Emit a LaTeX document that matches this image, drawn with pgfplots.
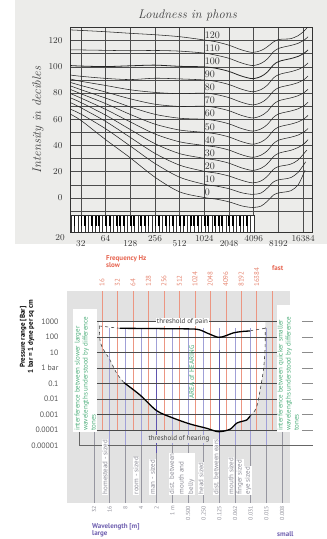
\documentclass[border=0pt]{standalone}
\usepackage{fontspec}
\usepackage{pgfplots}
\pgfplotsset{compat=1.18}
\newfontfamily\bsans{PT Sans}
\definecolor{topbg}{RGB}{236,236,234}
\definecolor{graybox}{RGB}{226,226,226}
\definecolor{redline}{RGB}{236,150,130}
\definecolor{redtext}{RGB}{230,100,80}
\definecolor{freqtext}{RGB}{230,135,115}
\definecolor{blueline}{RGB}{160,160,215}
\definecolor{darkblue}{RGB}{95,85,175}
\definecolor{purpletext}{RGB}{110,95,175}
\definecolor{greentext}{RGB}{80,175,125}
\definecolor{tickgray}{RGB}{85,85,85}
\definecolor{wlgray}{RGB}{140,140,150}
\definecolor{lowline}{RGB}{150,150,160}
\tikzset{
  curve/.style={smooth, black!85, line width=0.55pt},
  plab/.style={anchor=west, inner sep=0.3pt, font=\fontsize{10}{11}\selectfont, text=black!80},
  flab/.style={rotate=90, anchor=west, inner sep=0pt, font=\bsans\fontsize{7}{8}\selectfont, text=freqtext},
  wlab/.style={rotate=90, anchor=east, inner sep=0pt, font=\bsans\fontsize{5.8}{6}\selectfont, text=wlgray},
  dlab/.style={rotate=90, anchor=west, fill=white, inner sep=0.6pt, align=left, font=\bsans\fontsize{7}{9.5}\selectfont, text=wlgray},
}
\begin{document}
\begin{tikzpicture}
\path[use as bounding box] (0pt,0pt) rectangle (327pt,-539pt);
\fill[topbg] (15pt,0pt) rectangle (327pt,-244pt);
% ---------------- top chart ----------------
\begin{axis}[
  at={(70pt,-27pt)}, anchor=north west, width=242pt, height=205pt, scale only axis,
  xmin=4.56, xmax=14.36, ymin=-26, ymax=130.4,
  axis line style={draw=black!80, line width=0.7pt},
  xtick={5,...,14},
  xticklabels={\rule{0pt}{10.8pt}32,64,\rule{0pt}{10.8pt}128,256,\rule{0pt}{10.8pt}512,1024,\rule{0pt}{10.8pt}2048,4096,\rule{0pt}{10.8pt}8192,16384},
  ytick={0,20,...,120}, minor ytick={-10,10,...,110},
  xmajorgrids, ymajorgrids, yminorgrids,
  major grid style={black!70, line width=0.5pt},
  minor grid style={black!70, line width=0.5pt},
  major tick length=0pt, minor tick length=0pt,
  tick label style={font=\fontsize{9}{10}\selectfont, text=black!80},
  yticklabel style={xshift=-4pt},
]
\addplot[curve] coordinates {(4.56,128.2)(5,127.8)(6,126.8)(7,125.6)(8,124.5)(9,123)(10,120.5)(10.5,119)(11,116.5)(11.5,113)(11.95,111)(12.3,112.5)(12.55,115.3)(12.8,119)(13,120.8)(13.25,121.2)(13.5,121.5)(13.8,123.8)(14.05,127.5)(14.25,132)};
\addplot[curve] coordinates {(4.56,113)(5,112.9)(6,112.6)(7,112.3)(8,112.5)(9,112)(10,110.5)(10.5,108.8)(11,106.5)(11.5,103)(11.95,101)(12.3,102.7)(12.55,106)(12.8,111.5)(13,114)(13.25,115.3)(13.5,116.3)(13.8,118)(14.05,120.5)(14.2,123)};
\addplot[curve, line width=0.8pt] coordinates {(4.56,101)(5,100.6)(6,100.2)(7,100.8)(8,101.3)(9,100.4)(10,100)(10.5,98.8)(11,96.5)(11.5,93)(11.95,91)(12.3,92.7)(12.55,96)(12.8,101.5)(13,104)(13.25,105.3)(13.5,106.3)(13.8,108)(14.05,110.5)(14.2,113)};
\addplot[curve] coordinates {(4.56,93.8)(5,92.8)(6,91.2)(7,90.3)(8,91.3)(9,90.8)(10,90)(10.5,88.8)(11,86.5)(11.5,83)(11.95,81)(12.3,82.7)(12.55,86)(12.8,91.5)(13,94)(13.25,95.3)(13.5,96.3)(13.8,98)(14.05,100.5)(14.2,103)};
\addplot[curve] coordinates {(4.56,90.8)(5,89)(6,85.8)(7,82.5)(8,80.5)(9,79.5)(10,80)(10.5,78.8)(11,76.5)(11.5,73)(11.95,71)(12.3,72.7)(12.55,76)(12.8,81.5)(13,84)(13.25,85.3)(13.5,86.3)(13.8,88)(14.05,90.5)(14.2,93)};
\addplot[curve] coordinates {(4.56,88.2)(5,85.8)(6,80.8)(7,75.6)(8,71.5)(9,69.8)(10,70)(10.5,68.8)(11,66.5)(11.5,63)(11.95,61)(12.3,62.7)(12.55,66)(12.8,71.5)(13,74)(13.25,75.3)(13.5,76.3)(13.8,78)(14.05,80.5)(14.2,83)};
\addplot[curve] coordinates {(4.56,85.6)(5,82.6)(6,76.2)(7,69.4)(8,63.8)(9,60.8)(10,60)(10.5,58.8)(11,56.5)(11.5,53)(11.95,51)(12.3,52.7)(12.55,56)(12.8,61.5)(13,64)(13.25,65.3)(13.5,66.3)(13.8,68)(14.05,70.5)(14.2,73)};
\addplot[curve] coordinates {(4.56,82.9)(5,79.5)(6,72)(7,63.7)(8,56.3)(9,51.8)(10,50)(10.5,48.8)(11,46.5)(11.5,43)(11.95,41)(12.3,42.7)(12.55,46)(12.8,51.5)(13,54)(13.25,55.3)(13.5,56.3)(13.8,58)(14.05,60.5)(14.2,63)};
\addplot[curve] coordinates {(4.56,79.8)(5,76.2)(6,67.6)(7,58)(8,48.8)(9,42.8)(10,40)(10.5,38.8)(11,36.5)(11.5,33)(11.95,31)(12.3,32.7)(12.55,36)(12.8,41.5)(13,44)(13.25,45.3)(13.5,46.3)(13.8,48)(14.05,50.5)(14.2,53)};
\addplot[curve] coordinates {(4.56,76.5)(5,72.8)(6,63.2)(7,52.2)(8,41.4)(9,33.8)(10,30.2)(10.5,28.8)(11,26.5)(11.5,23)(11.95,21)(12.3,22.7)(12.55,26)(12.8,31.5)(13,34)(13.25,35.3)(13.5,36.3)(13.8,38.5)(14.05,41.5)(14.2,44.5)};
\addplot[curve] coordinates {(4.56,72.9)(5,68.8)(6,58.4)(7,46.2)(8,34)(9,25)(10,20.3)(10.5,18.9)(11,16.7)(11.5,13.5)(11.95,11.5)(12.3,13)(12.55,16.5)(12.8,21.8)(13,23.9)(13.25,24.8)(13.5,25.8)(13.8,29)(14.15,36.5)};
\addplot[curve] coordinates {(4.56,67.8)(5,64)(6,52.8)(7,39.6)(8,26.3)(9,15.8)(10,10.4)(10.5,9)(11,7)(11.5,4)(11.95,2.7)(12.3,3.8)(12.55,7.5)(12.8,12.2)(13,13.8)(13.25,14.5)(13.5,15.5)(13.8,19.5)(14.1,27.5)};
\addplot[curve] coordinates {(4.56,64)(5,59.2)(6,44.5)(7,30.6)(8,15.8)(9,4.6)(10,0.3)(10.5,-1)(11,-3)(11.5,-6)(11.95,-7.3)(12.3,-6.2)(12.55,-2.5)(12.8,2.2)(13,3.8)(13.25,4.5)(13.5,5.5)(13.8,10)(14.08,21.2)};
\node[plab] at (axis cs:10,124.2) {120};
\node[plab] at (axis cs:10,114.2) {110};
\node[plab] at (axis cs:10,104.2) {100};
\node[plab] at (axis cs:10,94.2) {90};
\node[plab] at (axis cs:10,84.2) {80};
\node[plab] at (axis cs:10,74.2) {70};
\node[plab] at (axis cs:10,64.2) {60};
\node[plab] at (axis cs:10,54.2) {50};
\node[plab] at (axis cs:10,44.2) {40};
\node[plab] at (axis cs:10,34.2) {30};
\node[plab] at (axis cs:10,24.2) {20};
\node[plab] at (axis cs:10,14.2) {10};
\node[plab] at (axis cs:10,4.2) {0};
\end{axis}
% piano keyboard
\fill[white] (71pt,-215pt) rectangle (254pt,-232pt);
\foreach \i in {0,...,52} \draw[black!80, line width=0.35pt] ({71pt+\i*3.519pt},-215pt) -- ({71pt+\i*3.519pt},-232pt);
\draw[black!80, line width=0.5pt] (71pt,-215pt) rectangle (254pt,-232pt);
\foreach \i in {0,...,50}{
  \pgfmathtruncatemacro{\m}{mod(\i,7)}
  \ifnum\m=1\relax\else\ifnum\m=4\relax\else
    \fill[black] ({71pt+(\i+1)*3.519pt-0.9pt},-215.5pt) rectangle ({71pt+(\i+1)*3.519pt+0.9pt},-226pt);
  \fi\fi
}
\node[font=\fontsize{9}{10}\selectfont, text=black!80] at (60pt,-237.5pt) {20};
\node[font=\itshape\fontsize{12.5}{14}\selectfont, text=black!75] at (187.5pt,-15pt) {Loudness in phons};
\node[rotate=90, font=\itshape\fontsize{12.5}{14}\selectfont, text=black!75] at (38pt,-120pt) {Intensity in decibles};
% ---------------- bottom diagram ----------------
\begin{axis}[
  at={(67pt,-291pt)}, anchor=north west, width=223pt, height=212pt, scale only axis,
  xmin=1.738, xmax=16.153, ymin=-8.72, ymax=4.984,
  axis line style={draw=none},
  xtick=\empty,
  ytick={-5,-4,...,3},
  yticklabels={0.00001,0.0001,0.001,0.01,0.1,1 bar,10,100,1000},
  major tick length=0pt,
  yticklabel style={font=\bsans\fontsize{7.8}{9}\selectfont, text=tickgray, xshift=-5pt},
  clip=false,
]
\fill[graybox] (rel axis cs:0,0) rectangle (rel axis cs:1,1);
% area of hearing (white)
\addplot[fill=white, draw=none] coordinates {(3.80,3)(14.56,3)(14.556,2.463)(14.537,1.171)(14.408,-0.316)(14.0,-2.495)(13.567,-3.096)(13.354,-3.354)(12.727,-3.548)(12.274,-3.955)(11.519,-4.111)(10.769,-3.891)(9.689,-3.613)(8.590,-3.225)(7.536,-2.753)(6.456,-1.738)(5.422,-0.943)(4.950,-0.335)(4.517,0.524)(4.194,1.041)(4.0,1.384)(3.871,1.817)(3.825,2.722)};
% side text boxes
\fill[white] (axis cs:2.125,3.821) rectangle (axis cs:3.677,-4.130);
\fill[white] (axis cs:15.312,4.080) rectangle (axis cs:16.864,-4.130);
% frequency lines
\pgfplotsinvokeforeach{4,...,15}{\draw[redline, line width=0.5pt] (axis cs:#1,4.984) -- (axis cs:#1,-4);}
% wavelength lines
\pgfplotsinvokeforeach{4.496,5.509,6.522,7.535,8.548,9.561,10.574,11.587,12.600,13.613,14.626}{\draw[blueline, line width=0.5pt] (axis cs:#1,2.593) -- (axis cs:#1,-5);}
\pgfplotsinvokeforeach{3.483,15.639}{\draw[lowline, line width=0.5pt] (axis cs:#1,-4.13) -- (axis cs:#1,-5);}
\pgfplotsinvokeforeach{3.483,4.496,5.509,6.522,7.535,8.548,9.561,10.574,11.587,12.600,13.613,14.626,15.639}{\draw[lowline, line width=0.5pt] (axis cs:#1,-5) -- (axis cs:#1,-8.72);}
\draw[darkblue, line width=1.3pt] (axis cs:7.535,0.007) -- (axis cs:7.535,-5.48);
\draw[darkblue, line width=1.3pt] (axis cs:11.587,1.171) -- (axis cs:11.587,-5.0);
% pressure lines
\pgfplotsinvokeforeach{-4,...,3}{\draw[black!70, line width=0.6pt] (axis cs:3.677,#1) -- (axis cs:15.312,#1);
  \draw[black!45, line width=0.6pt] (axis cs:16.928,#1) -- (axis cs:17.639,#1);}
\draw[black!60, line width=0.6pt] (axis cs:2.513,-4.13) -- (axis cs:2.513,-5) -- (axis cs:17.64,-5);
% thresholds
\addplot[smooth, black, line width=1.3pt] coordinates {(5.164,2.573)(7.103,2.560)(8.719,2.541)(10.141,2.509)(10.787,2.270)(11.498,1.992)(11.951,2.076)(12.468,2.270)(13.05,2.367)(13.567,2.399)};
\addplot[smooth, black, line width=1.3pt] coordinates {(5.422,-0.943)(6.456,-1.738)(7.536,-2.753)(8.590,-3.225)(9.689,-3.613)(10.769,-3.891)(11.519,-4.111)(12.274,-3.955)(12.727,-3.548)(13.354,-3.354)(13.567,-3.096)};
\addplot[dashed, black!75, line width=0.6pt] coordinates {(5.164,2.573)(3.825,2.722)};
\addplot[smooth, dashed, black!75, line width=0.6pt] coordinates {(3.825,2.722)(3.871,1.817)(4.0,1.384)(4.194,1.041)(4.517,0.524)(4.950,-0.335)(5.422,-0.943)};
\addplot[smooth, dashed, black!75, line width=0.6pt] coordinates {(13.567,-3.096)(14.0,-2.495)(14.408,-0.316)(14.537,1.171)(14.556,2.463)(14.537,2.573)};
\addplot[dashed, black!75, line width=0.6pt] coordinates {(14.537,2.573)(13.612,2.418)};
% texts
\node[fill=white, inner sep=0.8pt, font=\bsans\fontsize{7}{8}\selectfont, text=black!75] at (axis cs:9.204,3) {threshold of pain};
\node[fill=graybox, inner sep=0.8pt, font=\bsans\fontsize{7}{8}\selectfont, text=black!75] at (axis cs:8.98,-4.58) {threshold of hearing};
\node[rotate=90, font=\bsans\fontsize{7}{8}\selectfont, text=greentext] at (axis cs:9.798,-0.25) {AREA of HEARING};
\node[rotate=90, anchor=south west, align=left, inner sep=0pt, font=\bsans\fontsize{7}{8}\selectfont, text=greentext] at (axis cs:3.612,-4.065) {interference between slower larger\\wavelengths understood by difference\\tones};
\node[rotate=90, anchor=south west, align=left, inner sep=0pt, font=\bsans\fontsize{7}{8}\selectfont, text=greentext] at (axis cs:16.734,-4.065) {interference between quicker smaller\\wavelengths understood by difference\\tones};
\node[flab] at (axis cs:4,5.243) {16};
\node[flab] at (axis cs:5,5.243) {32};
\node[flab] at (axis cs:6,5.243) {64};
\node[flab] at (axis cs:7,5.243) {128};
\node[flab] at (axis cs:8,5.243) {256};
\node[flab] at (axis cs:9,5.243) {512};
\node[flab] at (axis cs:10,5.243) {1024};
\node[flab] at (axis cs:11,5.243) {2048};
\node[flab] at (axis cs:12,5.243) {4096};
\node[flab] at (axis cs:13,5.243) {8192};
\node[flab] at (axis cs:14,5.243) {16384};
\node[wlab] at (axis cs:3.483,-8.913) {32};
\node[wlab] at (axis cs:4.496,-8.913) {16};
\node[wlab] at (axis cs:5.509,-8.913) {8};
\node[wlab] at (axis cs:6.522,-8.913) {4};
\node[wlab] at (axis cs:7.535,-8.913) {2};
\node[wlab] at (axis cs:8.548,-8.913) {1 m};
\node[wlab] at (axis cs:9.561,-8.913) {0.500};
\node[wlab] at (axis cs:10.574,-8.913) {0.250};
\node[wlab] at (axis cs:11.587,-8.913) {0.125};
\node[wlab] at (axis cs:12.600,-8.913) {0.062};
\node[wlab] at (axis cs:13.613,-8.913) {0.031};
\node[wlab] at (axis cs:14.626,-8.913) {0.015};
\node[wlab] at (axis cs:15.639,-8.913) {0.008};
\node[dlab] at (axis cs:4.194,-8.202) {homestead - sized};
\node[dlab] at (axis cs:6.198,-8.202) {room - sized};
\node[dlab] at (axis cs:7.264,-8.202) {man - sized};
\node[dlab] at (axis cs:9.171,-8.202) {dist. between\\mouth and\\belly};
\node[dlab] at (axis cs:10.4,-8.202) {head sized};
\node[dlab] at (axis cs:11.369,-8.202) {dist. between ears};
\node[dlab] at (axis cs:12.339,-8.202) {mouth sized};
\node[dlab] at (axis cs:12.92,-8.202) {finger sized};
\node[dlab] at (axis cs:13.438,-8.202) {eye sized};
\end{axis}
\node[rotate=90, align=center, font=\bsans\bfseries\fontsize{7}{8}\selectfont] at (27pt,-337pt) {Pressure range [Bar]\\1 bar = 1 dyne per sq cm};
\node[anchor=west, inner sep=0pt, font=\bsans\bfseries\fontsize{7}{8}\selectfont, text=redtext] at (106pt,-259pt) {Frequency Hz};
\node[anchor=west, inner sep=0pt, font=\bsans\bfseries\fontsize{7}{8}\selectfont, text=redtext] at (106pt,-265.5pt) {slow};
\node[anchor=west, inner sep=0pt, font=\bsans\bfseries\fontsize{7}{8}\selectfont, text=redtext] at (272pt,-268pt) {fast};
\node[anchor=west, inner sep=0pt, font=\bsans\bfseries\fontsize{7}{8}\selectfont, text=purpletext] at (92pt,-527pt) {Wavelength [m]};
\node[anchor=west, inner sep=0pt, font=\bsans\bfseries\fontsize{7}{8}\selectfont, text=purpletext] at (92pt,-534pt) {large};
\node[anchor=west, inner sep=0pt, font=\bsans\bfseries\fontsize{7}{8}\selectfont, text=purpletext] at (277pt,-534pt) {small};
\end{tikzpicture}
\end{document}
